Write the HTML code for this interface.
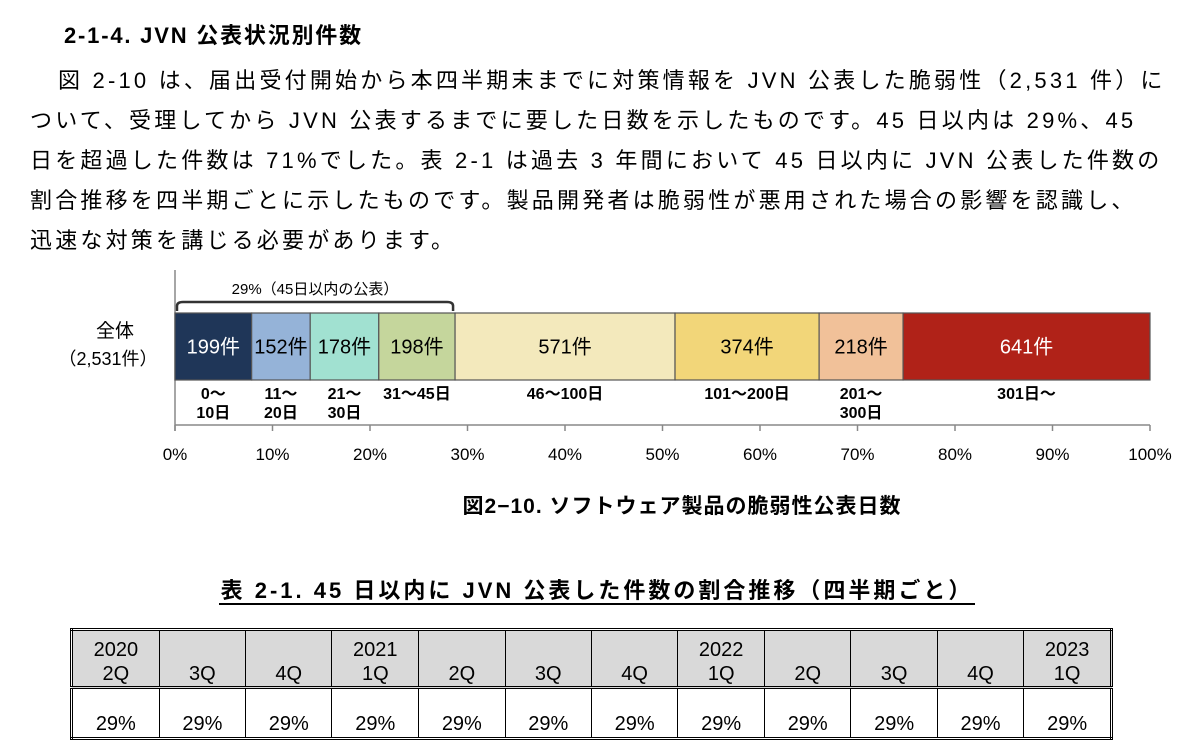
<!DOCTYPE html>
<html><head><meta charset="utf-8">
<style>
body{margin:0;width:1200px;height:754px;background:#fff;font-family:"Liberation Sans","Noto Sans CJK JP",sans-serif;color:#000;position:relative;overflow:hidden}
.abs{position:absolute;white-space:nowrap}
.h{left:64px;top:18px;font-size:22px;font-weight:bold;letter-spacing:1.8px}
.p{left:30px;font-size:22px;letter-spacing:3.2px}
.cap{left:0;width:1364px;text-align:center;top:490px;font-size:21px;font-weight:bold;letter-spacing:1px}
.tt{left:0;width:1194px;text-align:center;top:573px;font-size:22px;font-weight:bold;letter-spacing:3px}
.tt span{border-bottom:2px solid #000;padding:0 2px}
table{position:absolute;left:70px;top:628px;width:1043px;border-collapse:collapse;border:3px double #000;font-size:20px}
td{border:1px solid #000;text-align:center;width:86px;line-height:24px}
tr.hd td{background:#d9d9d9;height:54px;vertical-align:bottom;padding-bottom:0;border-bottom:3px double #000}
tr.vl td{height:46px;vertical-align:bottom;padding-bottom:1px}
</style></head><body>
<div class="abs h">2-1-4. JVN 公表状況別件数</div>
<div class="abs p" style="top:63px;left:58px">図 2-10 は、届出受付開始から本四半期末までに対策情報を JVN 公表した脆弱性（2,531 件）に</div>
<div class="abs p" style="top:103px">ついて、受理してから JVN 公表するまでに要した日数を示したものです。45 日以内は 29%、45</div>
<div class="abs p" style="top:143px">日を超過した件数は 71%でした。表 2-1 は過去 3 年間において 45 日以内に JVN 公表した件数の</div>
<div class="abs p" style="top:183px">割合推移を四半期ごとに示したものです。製品開発者は脆弱性が悪用された場合の影響を認識し、</div>
<div class="abs p" style="top:223px">迅速な対策を講じる必要があります。</div>

<svg class="abs" style="left:0;top:270px" width="1200" height="210" id="chart"></svg>

<div class="abs cap">図2−10. ソフトウェア製品の脆弱性公表日数</div>
<div class="abs tt"><span>表 2-1.  45 日以内に JVN 公表した件数の割合推移（四半期ごと）</span></div>

<table>
<tr class="hd">
<td>2020<br>2Q</td><td>3Q</td><td>4Q</td><td>2021<br>1Q</td><td>2Q</td><td>3Q</td><td>4Q</td><td>2022<br>1Q</td><td>2Q</td><td>3Q</td><td>4Q</td><td>2023<br>1Q</td></tr>
<tr class="vl">
<td>29%</td><td>29%</td><td>29%</td><td>29%</td><td>29%</td><td>29%</td><td>29%</td><td>29%</td><td>29%</td><td>29%</td><td>29%</td><td>29%</td></tr>
</table>

<script>
const categories = ["0～|10日","11～|20日","21～|30日","31～45日","46～100日","101～200日","201～|300日","301日～"];
const counts = [199,152,178,198,571,374,218,641];
const colors = ["#1f3658","#95b3d8","#a1e1d1","#c5d69c","#f3e9bc","#f2d679","#f1c199","#b02218"];
const ticks = [0,10,20,30,40,50,60,70,80,90,100];
const NS="http://www.w3.org/2000/svg";
const svg=document.getElementById('chart');
const x0=175,x1=1150,by=43,bh=67,ay=155;
const total=counts.reduce((a,b)=>a+b,0);
const xs=p=>x0+(x1-x0)*p/100;
function mk(t,a){const e=document.createElementNS(NS,t);for(const k in a)e.setAttribute(k,a[k]);svg.appendChild(e);return e;}
let ax=mk('line',{x1:x0,x2:x1,y1:ay,y2:ay,stroke:'#888','stroke-width':1.5});


let vl=mk('line',{x1:x0,x2:x0,y1:0,y2:ay+6,stroke:'#888','stroke-width':1.5});


ticks.forEach(t=>{
  mk('line',{x1:xs(t),x2:xs(t),y1:ay,y2:ay+6,stroke:'#888','stroke-width':1.5});
  const tx=mk('text',{x:xs(t),y:ay+35,'text-anchor':'middle','font-size':17});
  tx.textContent=t+'%';
  
  
});
let cum=0;
counts.forEach((c,i)=>{
  const p0=cum/total*100; cum+=c; const p1=cum/total*100;
  const r=mk('rect',{x:xs(p0),y:by,width:xs(p1)-xs(p0),height:bh,fill:colors[i],stroke:'#555','stroke-width':1.2});
  
  
  const cx=(xs(p0)+xs(p1))/2;
  const lt=mk('text',{x:cx,y:by+bh/2+7,'text-anchor':'middle','font-size':20,fill:(i==0||i==7)?'#fff':'#000'});
  lt.textContent=c+'件';
  
  
  const lines=categories[i].split('|');
  lines.forEach((ln,j)=>{
    const ct=mk('text',{x:cx,y:by+bh+19+j*19,'text-anchor':'middle','font-size':16,'font-weight':'600'});
    ct.textContent=ln;
    
    
  });
});
const bx1=xs((199+152+178+198)/total*100);
let br=mk('path',{d:`M${x0+2} ${by-2} L${x0+2} ${by-7} Q${x0+2} ${by-11} ${x0+8} ${by-11} L${bx1-8} ${by-11} Q${bx1-2} ${by-11} ${bx1-2} ${by-7} L${bx1-2} ${by-2}`,fill:'none',stroke:'#333','stroke-width':2.5});


let bt=mk('text',{x:(x0+bx1)/2,y:by-19,'text-anchor':'middle','font-size':15});
bt.textContent='29%（45日以内の公表）';


let l1=mk('text',{x:115,y:by+24,'text-anchor':'middle','font-size':19});
l1.textContent='全体';


let l2=mk('text',{x:108,y:by+52,'text-anchor':'middle','font-size':18});
l2.textContent='（2,531件）';


</script>
</body></html>
